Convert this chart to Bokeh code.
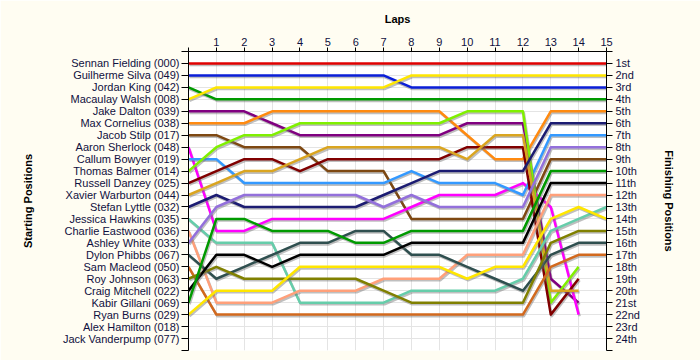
from bokeh.plotting import figure
from bokeh.models import Range1d, LinearAxis, FixedTicker
from bokeh.embed import file_html
from bokeh.resources import INLINE

# ---------------- data ----------------
laps = list(range(16))

start_names = [
    "Sennan Fielding (000)", "Guilherme Silva (049)", "Jordan King (042)",
    "Macaulay Walsh (008)", "Jake Dalton (039)", "Max Cornelius (038)",
    "Jacob Stilp (017)", "Aaron Sherlock (048)", "Callum Bowyer (019)",
    "Thomas Balmer (014)", "Russell Danzey (025)", "Xavier Warburton (044)",
    "Stefan Lyttle (032)", "Jessica Hawkins (035)", "Charlie Eastwood (036)",
    "Ashley White (033)", "Dylon Phibbs (067)", "Sam Macleod (050)",
    "Roy Johnson (063)", "Craig Mitchell (022)", "Kabir Gillani (069)",
    "Ryan Burns (029)", "Alex Hamilton (018)", "Jack Vanderpump (077)",
]

finish_labels = [
    "1st", "2nd", "3rd", "4th", "5th", "6th", "7th", "8th", "9th", "10th",
    "11th", "12th", "13th", "14th", "15th", "16th", "17th", "18th", "19th",
    "20th", "21st", "22nd", "23rd", "24th",
]

# position of each driver at the end of every lap (lap 0 = grid)
pos_fielding   = [1, 1, 1, 1, 1, 1, 1, 1, 1, 1, 1, 1, 1, 1, 1, 1]
pos_silva      = [2, 2, 2, 2, 2, 2, 2, 2, 3, 3, 3, 3, 3, 3, 3, 3]
pos_king       = [3, 4, 4, 4, 4, 4, 4, 4, 4, 4, 4, 4, 4, 4, 4, 4]
pos_walsh      = [4, 3, 3, 3, 3, 3, 3, 3, 2, 2, 2, 2, 2, 2, 2, 2]
pos_dalton     = [5, 5, 5, 6, 7, 7, 7, 7, 7, 7, 6, 6, 6, 19, 21]
pos_cornelius  = [6, 6, 6, 5, 5, 5, 5, 5, 5, 5, 7, 9, 9, 5, 5, 5]
pos_stilp      = [7, 7, 8, 8, 8, 10, 10, 10, 14, 14, 14, 14, 14, 9, 9, 9]
pos_sherlock   = [8, 15, 15, 14, 14, 14, 14, 14, 13, 12, 12, 12, 11, 13, 22]
pos_bowyer     = [9, 9, 11, 11, 11, 11, 11, 11, 10, 11, 11, 11, 12, 7, 7, 7]
pos_balmer     = [10, 8, 7, 7, 6, 6, 6, 6, 6, 6, 5, 5, 5, 21, 18]
pos_danzey     = [11, 10, 9, 9, 10, 9, 9, 9, 9, 9, 8, 8, 8, 22, 19]
pos_warburton  = [12, 11, 10, 10, 9, 8, 8, 8, 8, 8, 9, 7, 7, 20, 20]
pos_lyttle     = [13, 12, 13, 13, 13, 13, 13, 12, 11, 10, 10, 10, 10, 6, 6, 6]
pos_hawkins    = [14, 16, 16, 16, 21, 21, 21, 21, 20, 20, 20, 20, 19, 15, 14, 13]
pos_eastwood   = [15, 21, 21, 21, 20, 20, 20, 19, 19, 19, 17, 17, 17, 12, 12, 12]
pos_white      = [16, 13, 12, 12, 12, 12, 12, 13, 12, 13, 13, 13, 13, 8, 8, 8]
pos_phibbs     = [17, 19, 18, 17, 16, 16, 15, 15, 17, 17, 18, 19, 20, 17, 16, 16]
pos_macleod    = [18, 22, 22, 22, 22, 22, 22, 22, 22, 22, 22, 22, 22, 18, 17, 17]
pos_johnson    = [19, 18, 19, 19, 19, 19, 19, 20, 21, 21, 21, 21, 21, 16, 15, 15]
pos_mitchell   = [20, 17, 17, 18, 17, 17, 17, 17, 16, 16, 16, 16, 16, 11, 11, 11]
pos_gillani    = [21, 14, 14, 15, 15, 15, 16, 16, 15, 15, 15, 15, 15, 10, 10, 10]
pos_burns      = [22, 20, 20, 20, 18, 18, 18, 18, 18, 18, 19, 18, 18, 14, 13, 14]

series = [
    pos_fielding, pos_silva, pos_king, pos_walsh, pos_dalton, pos_cornelius,
    pos_stilp, pos_sherlock, pos_bowyer, pos_balmer, pos_danzey, pos_warburton,
    pos_lyttle, pos_hawkins, pos_eastwood, pos_white, pos_phibbs, pos_macleod,
    pos_johnson, pos_mitchell, pos_gillani, pos_burns,
]

# ---------------- style ----------------
line_colors = [
    "#E00000", "#0A1ED8", "#009A00", "#FFE600", "#800080", "#FF8A10",
    "#7E4812", "#FF00FF", "#3399FF", "#80F000", "#800000", "#DAA520",
    "#1C1C72", "#66CDAA", "#FFA07A", "#9370DB", "#2F4F4F", "#D2691E",
    "#808000", "#000000", "#009A00", "#FFE600",
]

FONT = "Liberation Sans"
LABEL_COLOR = "#101040"
N_POS = len(start_names) + 1
N_LAPS = laps[-1]

p = figure(
    width=700, height=360,
    x_range=Range1d(0, N_LAPS), y_range=Range1d(N_POS, 0),
    x_axis_location="above",
    output_backend="svg", toolbar_location=None,
    min_border_left=188, min_border_right=94,
    min_border_top=51, min_border_bottom=10,
    background_fill_color="white", border_fill_color="#FFFDF2",
    outline_line_color=None,
)

# shadow ranges (shift shadows ~1px right, ~1.5px down)
dx = 1.0 * N_LAPS / 418
dy = 1.6 * N_POS / 299
p.extra_x_ranges = {"sx": Range1d(-dx, N_LAPS - dx)}
p.extra_y_ranges = {"sy": Range1d(N_POS - dy, -dy)}

pos_ticks = list(range(N_POS + 1))
left_over = {0: "", N_POS: ""}
right_over = {0: "", N_POS: ""}
for i, nm in enumerate(start_names):
    left_over[i + 1] = nm
for i, nm in enumerate(finish_labels):
    right_over[i + 1] = nm


def style_axis(ax, tick_out, standoff, label_standoff):
    ax.major_label_text_font = FONT
    ax.major_label_text_font_size = "11px"
    ax.major_label_text_color = LABEL_COLOR
    ax.axis_label_text_font = FONT
    ax.axis_label_text_font_size = "11px"
    ax.axis_label_text_font_style = "bold"
    ax.axis_label_text_color = "black"
    ax.axis_line_color = "black"
    ax.major_tick_line_color = "black"
    ax.major_tick_out = tick_out
    ax.major_tick_in = 0
    ax.minor_tick_line_color = None
    ax.major_label_standoff = standoff
    ax.axis_label_standoff = label_standoff


# top axis (laps)
xa = p.xaxis[0]
xa.ticker = FixedTicker(ticks=laps, minor_ticks=[])
xa.major_label_overrides = {0: ""}
xa.axis_label = "Laps"
style_axis(xa, 4, 2, 10)

# left axis (starting positions)
ya = p.yaxis[0]
ya.ticker = FixedTicker(ticks=pos_ticks, minor_ticks=[])
ya.major_label_overrides = left_over
ya.axis_label = "Starting Positions"
style_axis(ya, 7, 2, 26)

# right axis (finishing positions)
ra = LinearAxis(ticker=FixedTicker(ticks=pos_ticks, minor_ticks=[]),
                major_label_overrides=right_over,
                axis_label="Finishing Positions")
style_axis(ra, 6, 3, 20)
p.add_layout(ra, "right")

p.xgrid.grid_line_color = "#E4E4E4"
p.ygrid.grid_line_color = "#E4E4E4"
p.xgrid.ticker = FixedTicker(ticks=laps)
p.ygrid.ticker = FixedTicker(ticks=pos_ticks)

for pos, col in zip(series, line_colors):
    xs = laps[:len(pos)]
    p.line(xs, pos, x_range_name="sx", y_range_name="sy",
           line_color="#707070", line_alpha=0.45, line_width=2.5,
           line_join="round")
    p.line(xs, pos, line_color=col, line_width=2.5, line_join="round")

open("out.html", "w").write(file_html(p, INLINE))
